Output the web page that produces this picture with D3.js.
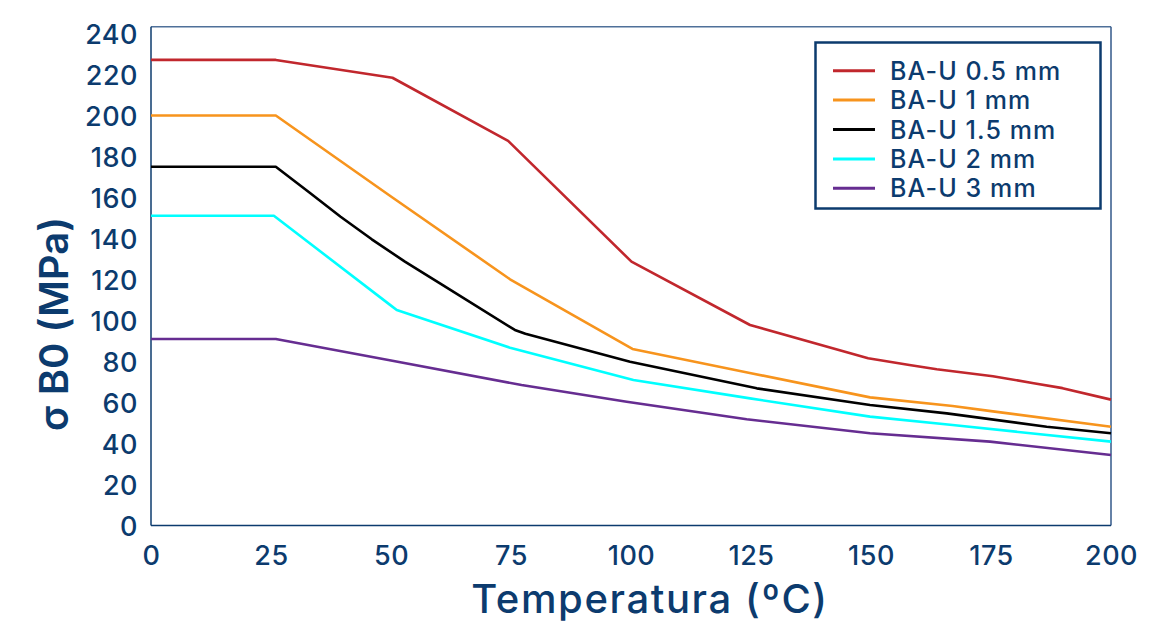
<!DOCTYPE html>
<html><head><meta charset="utf-8">
<script src="https://cdn.jsdelivr.net/npm/d3@7/dist/d3.min.js"></script>
<style>
html,body{margin:0;padding:0;background:#fff;}
svg{display:block;font-family:Inter,"Open Sans",sans-serif;}
</style></head>
<body><svg id="c" width="1171" height="625"></svg>
<script>
const seriesNames = ["BA-U 0.5 mm","BA-U 1 mm","BA-U 1.5 mm","BA-U 2 mm","BA-U 3 mm"];
const seriesColors = ["#c1272d","#f7941d","#000000","#00ffff","#662d91"];
const xTicks = [0,25,50,75,100,125,150,175,200];
const yTicks = [0,20,40,60,80,100,120,140,160,180,200,220,240];
// temperature (x) / stress (y) readings per series
const red_T    = [0,26,50.3,74.4,100.1,124.8,149.4,158,163.7,175.4,183.9,189.9,200];
const red_V    = [227.1,227.1,218.4,187.6,128.7,97.8,81.6,78.3,76.2,72.8,69.4,67.0,61.4];
const orange_T = [0,26,50,74.8,100.3,125,149.8,167,175,200];
const orange_V = [200,200,160.5,120.1,86.1,74.3,62.5,58.3,55.8,48.2];
const black_T  = [0,26,33,39.5,46,52.9,60.2,75.8,78,99.8,126.2,149.8,165.8,186.6,200];
const black_V  = [175,175,162.4,150.6,139.6,128.7,118.1,95.4,93.5,79.9,66.9,58.8,54.7,48.2,45];
const cyan_T   = [0,25.6,49.8,51.2,52.6,74.8,100.5,124.8,149.8,167,200];
const cyan_V   = [151.1,151.1,107.6,105.1,104.0,86.7,71,62.0,53.1,49.0,40.9];
const purple_T = [0,26,50,77.2,99.1,124.1,149.8,174.8,200];
const purple_V = [91,91,80.5,68.5,60.4,51.8,45.0,40.9,34.4];
const allT = [red_T, orange_T, black_T, cyan_T, purple_T];
const allV = [red_V, orange_V, black_V, cyan_V, purple_V];

const navy = "#0c3b6e";
const svg = d3.select("#c");
const x = d3.scaleLinear().domain([0,200]).range([151,1111]);
const y = d3.scaleLinear().domain([0,243.3]).range([525.5,26.7]);

// frame
const [x0,x1] = x.range(), [yb,yt] = y.range();
svg.append("line").attr("x1",x0).attr("x2",x1).attr("y1",yt).attr("y2",yt).attr("stroke","#4f7099").attr("stroke-width",1.5);
svg.append("line").attr("x1",x1).attr("x2",x1).attr("y1",yt).attr("y2",yb).attr("stroke","#33598a").attr("stroke-width",1.5);
svg.append("line").attr("x1",x0).attr("x2",x0).attr("y1",yt).attr("y2",yb).attr("stroke",navy).attr("stroke-width",1.5);
svg.append("line").attr("x1",x0).attr("x2",x1).attr("y1",yb).attr("y2",yb).attr("stroke",navy).attr("stroke-width",1.5);

// axes
const ya = svg.append("g").attr("transform","translate(138,0)")
  .call(d3.axisLeft(y).tickValues(yTicks).tickSize(0).tickPadding(0));
ya.select(".domain").remove();
ya.selectAll("text").attr("fill",navy).attr("font-size",27).attr("font-weight",500)
  .attr("font-family","Inter").attr("letter-spacing","0.5px").attr("dy","0.36em");

const xa = svg.append("g").attr("transform","translate(0,545)")
  .call(d3.axisBottom(x).tickValues(xTicks).tickSize(0).tickPadding(0));
xa.select(".domain").remove();
xa.selectAll("text").attr("fill",navy).attr("font-size",27).attr("font-weight",500)
  .attr("font-family","Inter").attr("letter-spacing","0.5px").attr("dy","0.75em");

// lines
const line = d3.line().x(d=>x(d[0])).y(d=>y(d[1]));
allT.forEach((T,i)=>{
  const pts = T.map((t,j)=>[t, allV[i][j]]);
  svg.append("path").datum(pts).attr("d",line).attr("fill","none")
    .attr("stroke",seriesColors[i]).attr("stroke-width",2.6).attr("stroke-linejoin","round");
});

// titles
svg.append("text").attr("x",650).attr("y",613).attr("text-anchor","middle")
  .attr("fill",navy).attr("font-size",40).attr("font-weight",500).attr("letter-spacing","1.6px")
  .text("Temperatura (ºC)");
svg.append("text").attr("transform","translate(68,324) rotate(-90)").attr("text-anchor","middle")
  .attr("fill",navy).attr("font-size",40).attr("font-weight",600).text("σ B0 (MPa)");

// legend
const lg = svg.append("g");
lg.append("rect").attr("x",815.5).attr("y",42.5).attr("width",285).attr("height",166)
  .attr("fill","#fff").attr("stroke",navy).attr("stroke-width",2.5);
seriesNames.forEach((n,i)=>{
  const cy = 70.7 + i*29.4;
  lg.append("line").attr("x1",833).attr("x2",875).attr("y1",cy).attr("y2",cy)
    .attr("stroke",seriesColors[i]).attr("stroke-width",3);
  lg.append("text").attr("x",890).attr("y",cy).attr("dy","0.36em").attr("fill",navy)
    .attr("font-size",25).attr("font-weight",500).attr("letter-spacing","1.1px").text(n);
});
</script></body></html>
